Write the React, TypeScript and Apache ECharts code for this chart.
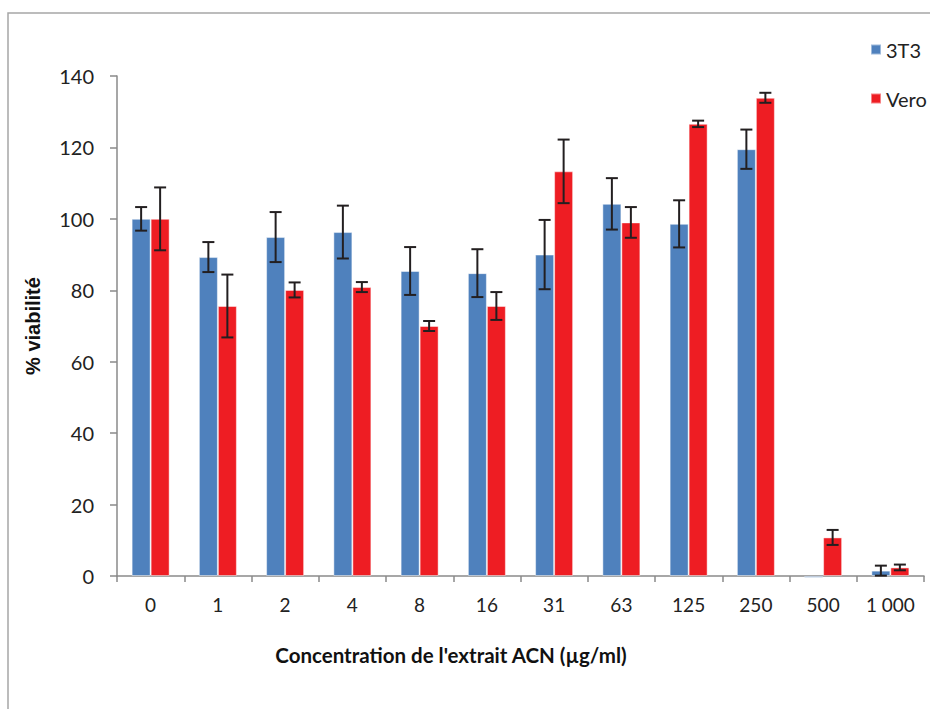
import React, { useEffect, useRef } from "react";
import * as echarts from "echarts";

const categories = ["0", "1", "2", "4", "8", "16", "31", "63", "125", "250", "500", "1 000"];
const seriesNames = ["3T3", "Vero"];
const values3T3 = [100, 89.3, 94.9, 96.3, 85.4, 84.8, 90.0, 104.2, 98.6, 119.5, -0.5, 1.5];
const err3T3: (number | null)[] = [3.3, 4.2, 7.0, 7.4, 6.7, 6.7, 9.7, 7.2, 6.6, 5.5, null, 1.4];
const valuesVero = [100, 75.6, 80.1, 80.9, 70.0, 75.6, 113.3, 99.0, 126.6, 133.9, 10.8, 2.4];
const errVero: (number | null)[] = [8.8, 8.8, 2.1, 1.4, 1.4, 3.9, 8.9, 4.3, 0.9, 1.4, 2.1, 0.8];
const yTicks = { min: 0, max: 140, interval: 20 };

const colors = ["#4F81BD", "#EE1D23"];
const CAT_GAP = 0.435;
const LABEL_FONT = "Lato, 'Open Sans', sans-serif";

export default function App() {
  const ref = useRef<HTMLDivElement>(null);
  useEffect(() => {
    document.body.style.margin = "0";
    if (!ref.current) return;
    const chart = echarts.init(ref.current, undefined, { renderer: "svg" });

    const makeErr = (vals: number[], errs: (number | null)[], idx: number) => ({
      type: "custom",
      name: seriesNames[idx] + " err",
      silent: true,
      z: 10,
      data: vals
        .map((v, i) => (errs[i] == null ? null : [i, v, errs[i]]))
        .filter((d) => d !== null),
      encode: { x: 0, y: 1 },
      renderItem: (params: any, api: any) => {
        const x = api.value(0);
        const v = api.value(1);
        const e = api.value(2);
        const hi = api.coord([x, v + e]);
        const lo = api.coord([x, v - e]);
        const band = api.size([1, 0])[0];
        const barW = (band * (1 - CAT_GAP)) / 2;
        const cx = hi[0] + (idx === 0 ? -barW / 2 : barW / 2);
        const cap = 6;
        const style = { stroke: "#231F20", lineWidth: 2 };
        return {
          type: "group",
          children: [
            { type: "line", shape: { x1: cx, y1: hi[1], x2: cx, y2: lo[1] }, style },
            { type: "line", shape: { x1: cx - cap, y1: hi[1], x2: cx + cap, y2: hi[1] }, style },
            { type: "line", shape: { x1: cx - cap, y1: lo[1], x2: cx + cap, y2: lo[1] }, style },
          ],
        };
      },
    });

    chart.setOption({
      animation: false,
      backgroundColor: "#ffffff",
      color: colors,
      grid: { left: 117, right: 6, top: 76, bottom: 133, containLabel: false },
      legend: {
        data: seriesNames,
        orient: "vertical",
        left: 865,
        top: 33,
        icon: "rect",
        itemWidth: 10,
        itemHeight: 10,
        itemGap: 26,
        textStyle: { fontFamily: LABEL_FONT, fontSize: 20, color: "#222", lineHeight: 23 },
      },
      xAxis: {
        type: "category",
        data: categories,
        axisLine: { lineStyle: { color: "#8a8a8a", width: 1.5 } },
        axisTick: { show: true, length: 6, lineStyle: { color: "#8a8a8a", width: 1.5 } },
        axisLabel: { margin: 19, fontFamily: LABEL_FONT, fontSize: 19, color: "#222", interval: 0 },
      },
      yAxis: {
        type: "value",
        min: yTicks.min,
        max: yTicks.max,
        interval: yTicks.interval,
        name: "% viabilité",
        nameLocation: "middle",
        nameGap: 74,
        nameTextStyle: { fontFamily: "'Liberation Sans', Arial, sans-serif", fontWeight: "bold", fontSize: 20, color: "#111" },
        splitLine: { show: false },
        axisLine: { show: true, lineStyle: { color: "#8a8a8a", width: 1.5 } },
        axisTick: { show: true, length: 7, lineStyle: { color: "#8a8a8a", width: 1.5 } },
        axisLabel: { margin: 23, fontFamily: LABEL_FONT, fontSize: 20, color: "#222" },
      },
      graphic: [
        {
          type: "rect",
          shape: { x: 8, y: 13, width: 1100, height: 1000 },
          style: { fill: "none", stroke: "#a6a6a6", lineWidth: 1.5 },
          silent: true,
        },
        {
          type: "text",
          x: 451,
          y: 655,
          style: {
            text: "Concentration de l'extrait ACN (µg/ml)",
            fontFamily: LABEL_FONT,
            fontWeight: "bold",
            fontSize: 20.5,
            fill: "#111",
            align: "center",
            verticalAlign: "middle",
          },
        },
      ],
      series: [
        {
          name: seriesNames[0],
          type: "bar",
          data: values3T3,
          barGap: "0%",
          barCategoryGap: CAT_GAP * 100 + "%",
          clip: false,
          itemStyle: { color: colors[0], borderColor: "rgba(255,255,255,0.45)", borderWidth: 1 },
        },
        {
          name: seriesNames[1],
          type: "bar",
          data: valuesVero,
          barGap: "0%",
          barCategoryGap: CAT_GAP * 100 + "%",
          clip: false,
          itemStyle: { color: colors[1], borderColor: "rgba(255,255,255,0.45)", borderWidth: 1 },
        },
        makeErr(values3T3, err3T3, 0),
        makeErr(valuesVero, errVero, 1),
      ],
    });
    return () => chart.dispose();
  }, []);
  return <div ref={ref} style={{ width: 930, height: 709 }} />;
}
